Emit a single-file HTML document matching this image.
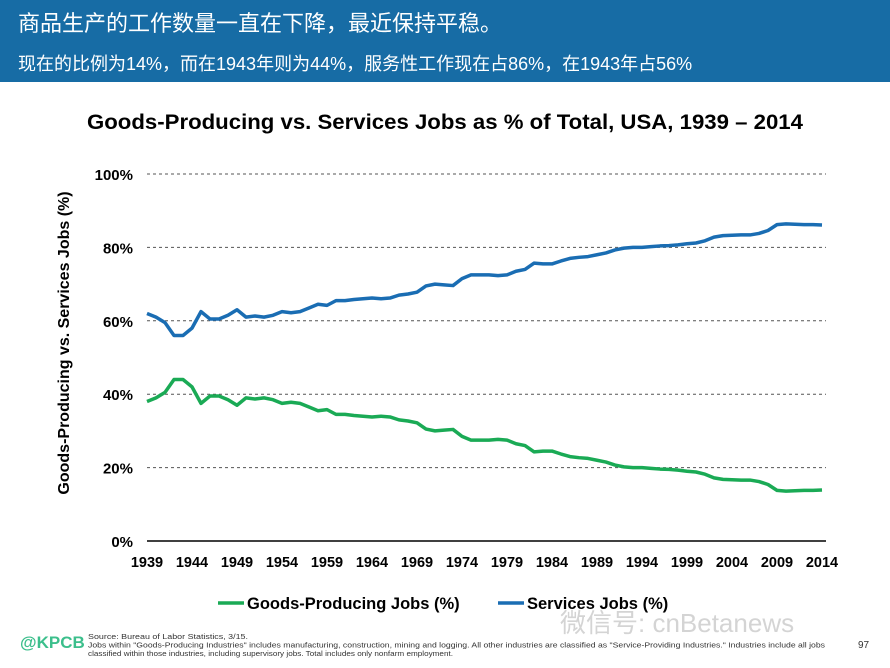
<!DOCTYPE html>
<html><head><meta charset="utf-8"><style>
body{margin:0;width:890px;height:668px;background:#fff;position:relative;overflow:hidden;font-family:"Liberation Sans","Noto Sans CJK SC",sans-serif}
#hdr{position:absolute;left:0;top:0;width:890px;height:82px;background:#176ca5}
#t1{position:absolute;left:18px;top:6px;font-size:22px;color:#fff}
#t2{position:absolute;left:18px;top:50px;font-size:18px;color:#fff}
svg{position:absolute;left:0;top:0}
</style></head><body>
<div id="hdr">
<div id="t1">商品生产的工作数量一直在下降，最近保持平稳。</div>
<div id="t2">现在的比例为14%，而在1943年则为44%，服务性工作现在占86%，在1943年占56%</div>
</div>
<svg id="c" width="890" height="668"></svg>
<script>
const years=[];for(let y=1939;y<=2014;y++)years.push(y);
const services=[62,61,59.5,56,56,58,62.5,60.5,60.5,61.5,63,61,61.3,61,61.5,62.5,62.2,62.5,63.5,64.5,64.2,65.5,65.5,65.8,66,66.2,66,66.2,67,67.3,67.8,69.5,70,69.8,69.6,71.5,72.5,72.5,72.5,72.3,72.5,73.5,74,75.7,75.5,75.5,76.3,77,77.3,77.5,78,78.5,79.3,79.8,80,80,80.2,80.4,80.5,80.7,81,81.2,81.8,82.8,83.2,83.3,83.4,83.4,83.8,84.6,86.2,86.4,86.3,86.2,86.2,86.1];
const goods=[38,39,40.5,44,44,42,37.5,39.5,39.5,38.5,37,39,38.7,39,38.5,37.5,37.8,37.5,36.5,35.5,35.8,34.5,34.5,34.2,34,33.8,34,33.8,33,32.7,32.2,30.5,30,30.2,30.4,28.5,27.5,27.5,27.5,27.7,27.5,26.5,26,24.3,24.5,24.5,23.7,23,22.7,22.5,22,21.5,20.7,20.2,20,20,19.8,19.6,19.5,19.3,19,18.8,18.2,17.2,16.8,16.7,16.6,16.6,16.2,15.4,13.8,13.6,13.7,13.8,13.8,13.9];
const yTicks=[0,20,40,60,80,100];
const xTicks=[1939,1944,1949,1954,1959,1964,1969,1974,1979,1984,1989,1994,1999,2004,2009,2014];
const X=y=>147+(y-1939)*9;
const Y=v=>541-v*3.67;
const svg=document.getElementById('c');const NS='http://www.w3.org/2000/svg';
function mk(t,a,txt){const e=document.createElementNS(NS,t);for(const k in a)e.setAttribute(k,a[k]);if(txt!=null)e.textContent=txt;svg.appendChild(e);return e;}
let e=mk('text',{x:445,y:129,'text-anchor':'middle','font-size':21,'font-weight':'bold',fill:'#000',textLength:716,lengthAdjust:'spacingAndGlyphs'},'Goods-Producing vs. Services Jobs as % of Total, USA, 1939 – 2014');


yTicks.forEach(v=>{
 if(v>0){const l=mk('line',{x1:147,x2:826,y1:Y(v),y2:Y(v),stroke:'#555','stroke-width':1,'stroke-dasharray':'3,3'});
 
 }
 const t=mk('text',{x:133,y:Y(v)+6,'text-anchor':'end','font-size':15,'font-weight':'bold'},v+'%');
 
 
});
e=mk('line',{x1:147,x2:826,y1:Y(0),y2:Y(0),stroke:'#000','stroke-width':1.5});


xTicks.forEach(y=>{
 const t=mk('text',{x:X(y),y:567,'text-anchor':'middle','font-size':14.5,'font-weight':'bold'},String(y));
 
 
});
e=mk('text',{transform:'translate(69,343) rotate(-90)','text-anchor':'middle','font-size':16,'font-weight':'bold'},'Goods-Producing vs. Services Jobs (%)');


function line(arr,col,name){
 const p=mk('polyline',{points:arr.map((v,i)=>X(years[i])+','+Y(v)).join(' '),fill:'none',stroke:col,'stroke-width':3.5,'stroke-linejoin':'round'});
 
 
}
line(services,'#1a6db3','services-line');
line(goods,'#1aaa55','goods-line');
e=mk('line',{x1:218,x2:244,y1:603,y2:603,stroke:'#1aaa55','stroke-width':3.5});


e=mk('text',{x:247,y:609,'font-size':16.5,'font-weight':'bold'},'Goods-Producing Jobs (%)');


e=mk('line',{x1:498,x2:524,y1:603,y2:603,stroke:'#1a6db3','stroke-width':3.5});


e=mk('text',{x:527,y:609,'font-size':16.5,'font-weight':'bold'},'Services Jobs (%)');


e=mk('text',{x:20,y:648,'font-size':17,'font-weight':'bold',fill:'#3cbf8c'},'@KPCB');


const notes=['Source: Bureau of Labor Statistics, 3/15.','Jobs within "Goods-Producing Industries" includes manufacturing, construction, mining and logging. All other industries are classified as "Service-Providing Industries." Industries include all jobs','classified within those industries, including supervisory jobs. Total includes only nonfarm employment.'];
const noteW=[160,737,365];
notes.forEach((n,i)=>{const t=mk('text',{x:88,y:639+i*8.5,'font-size':7.5,fill:'#333',textLength:noteW[i],lengthAdjust:'spacingAndGlyphs'},n);
 
 });
e=mk('text',{x:560,y:632,'font-size':26,fill:'#d4d4d4'},'微信号: cnBetanews');


e=mk('text',{x:858,y:648,'font-size':10,fill:'#333'},'97');


</script>
</body></html>
